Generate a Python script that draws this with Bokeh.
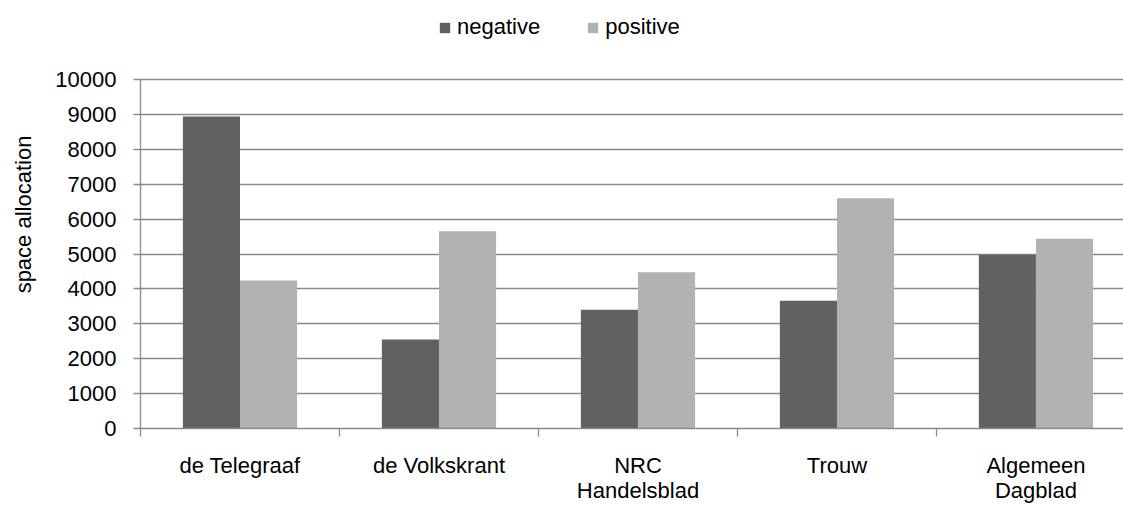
from bokeh.plotting import figure
from bokeh.models import Range1d, FixedTicker, Legend, LegendItem
from bokeh.embed import file_html
from bokeh.resources import INLINE

categories = ["de Telegraaf", "de Volkskrant", "NRC Handelsblad", "Trouw", "Algemeen Dagblad"]
tick_labels = ["de Telegraaf", "de Volkskrant", "NRC\nHandelsblad", "Trouw", "Algemeen\nDagblad"]
negative = [8940, 2550, 3400, 3660, 4980]
positive = [4240, 5650, 4480, 6600, 5440]
y_ticks = [0, 1000, 2000, 3000, 4000, 5000, 6000, 7000, 8000, 9000, 10000]

FONT = "Liberation Sans"
GRID = "#8a8a8a"

centers = [i + 0.5 for i in range(len(categories))]
bw = 0.287
neg_x = [c - bw / 2 for c in centers]
pos_x = [c + bw / 2 for c in centers]

FRAME_H = 428   # actual frame height in px (frame starts at the top)
TOP_10K = 79    # px from top where 10000 sits

p = figure(width=1123, height=505, output_backend="svg", toolbar_location=None,
           x_range=Range1d(0, 4.94), y_range=Range1d(0, 10000 * FRAME_H / (FRAME_H - TOP_10K)),
           min_border_left=140, min_border_right=0, min_border_top=0, min_border_bottom=70)
p.outline_line_color = None

r_neg = p.vbar(x=neg_x, top=negative, width=bw, fill_color="#616161", line_color=None)
r_pos = p.vbar(x=pos_x, top=positive, width=bw, fill_color="#b2b2b2", line_color=None)

# x axis
xa = p.xaxis[0]
xa.ticker = FixedTicker(ticks=centers, minor_ticks=list(range(len(categories) + 1)))
xa.major_label_overrides = {c: t for c, t in zip(centers, tick_labels)}
xa.major_tick_out = 0
xa.major_tick_in = 0
xa.minor_tick_out = 8
xa.minor_tick_in = 0
xa.minor_tick_line_color = GRID
xa.minor_tick_line_width = 1.3
xa.axis_line_color = GRID
xa.axis_line_width = 1.3
xa.major_label_text_font = FONT
xa.major_label_text_font_size = "22px"
xa.major_label_text_color = "black"
xa.major_label_text_line_height = 1.0
xa.major_label_standoff = 16

# y axis
ya = p.yaxis[0]
ya.ticker = FixedTicker(ticks=y_ticks)
ya.bounds = (0, 10000)
ya.major_tick_out = 7
ya.major_tick_in = 0
ya.minor_tick_out = 0
ya.minor_tick_in = 0
ya.major_tick_line_color = GRID
ya.major_tick_line_width = 1.3
ya.axis_line_color = GRID
ya.axis_line_width = 1.3
ya.major_label_text_font = FONT
ya.major_label_text_font_size = "22px"
ya.major_label_text_color = "black"
ya.major_label_standoff = 17
ya.axis_label = "space allocation"
ya.axis_label_text_font = FONT
ya.axis_label_text_font_size = "22px"
ya.axis_label_text_font_style = "normal"
ya.axis_label_text_color = "black"
ya.axis_label_standoff = 16

p.xgrid.grid_line_color = None
p.ygrid.ticker = FixedTicker(ticks=y_ticks)
p.ygrid.grid_line_color = GRID
p.ygrid.grid_line_width = 1.5

legend = Legend(items=[LegendItem(label="negative", renderers=[r_neg]),
                       LegendItem(label="positive", renderers=[r_pos])],
                orientation="horizontal", location=(298, FRAME_H - 40),
                glyph_width=13, glyph_height=13, label_standoff=6, spacing=46,
                padding=0, margin=0, border_line_color=None, background_fill_alpha=0,
                label_text_font=FONT, label_text_font_size="22px", label_text_color="black")
p.add_layout(legend)

open("out.html", "w").write(file_html(p, INLINE))
